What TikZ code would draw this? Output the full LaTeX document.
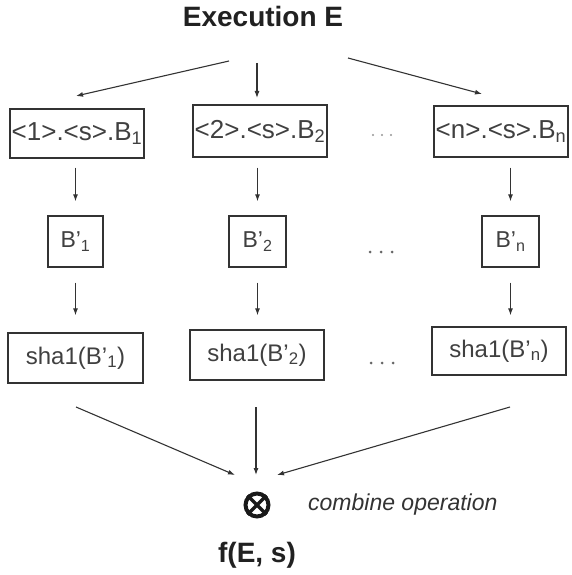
\documentclass[tikz,border=0pt]{standalone}
\usepackage{fontspec}
\setmainfont{Liberation Sans}
\usetikzlibrary{arrows.meta}
\definecolor{ink}{HTML}{333333}
\definecolor{txt}{HTML}{404040}
\definecolor{dotc}{HTML}{666666}
\begin{document}
\begin{tikzpicture}[x=1pt,y=-1pt,
  box/.style={draw=ink, line width=1.3pt, inner sep=0pt, text=txt},
  rowa/.style={box, font=\fontsize{26}{28}\selectfont, minimum width=134pt},
  rowb/.style={box, font=\fontsize{23}{25}\selectfont, minimum height=51pt},
  rowc/.style={box, font=\fontsize{24}{26}\selectfont, minimum width=134pt},
  arr/.style={draw=ink, line width=1.1pt, -{Latex[length=7pt,width=5pt]}},
  heading/.style={font=\bfseries\fontsize{28}{30}\selectfont, text=black!87, inner sep=0pt},
  dotmark/.style={fill=dotc, draw=none},
]
\useasboundingbox (0,0) rectangle (572,575);

% title
\node[heading, anchor=base] (title) at (263,27) {Execution E};

% row 1
\node[rowa, minimum height=49pt] (b1) at (77,133.5) {<1>.<s>.B\textsubscript{1}};
\node[rowa, minimum height=52pt] (b2) at (260,131) {<2>.<s>.B\textsubscript{2}};
\node[rowa, minimum height=51pt] (b3) at (501,131.5) {<n>.<s>.B\textsubscript{n}};

% row 2
\node[rowb, minimum width=55pt] (c1) at (75.5,241.5) {B'\textsubscript{1}};
\node[rowb, minimum width=57pt] (c2) at (257.5,241.5) {B'\textsubscript{2}};
\node[rowb, minimum width=57pt] (c3) at (510.5,241.5) {B'\textsubscript{n}};

% row 3
\node[rowc, minimum height=50pt, minimum width=135pt] (s1) at (75.5,358) {sha1(B'\textsubscript{1})};
\node[rowc, minimum height=50pt] (s2) at (257,355) {sha1(B'\textsubscript{2})};
\node[rowc, minimum height=48pt] (s3) at (499,351) {sha1(B'\textsubscript{n})};

% ellipses
\foreach \dx in {-9,0,9} \fill[dotmark, fill=dotc!70] (382+\dx,135) circle (1.2);
\foreach \dx in {-11,0,11} \fill[dotmark] (381+\dx,252) circle (1.5);
\foreach \dx in {-11,0,11} \fill[dotmark] (382+\dx,363) circle (1.5);

% combine operator
\node[circle, draw=black!90, line width=4pt, minimum size=23pt, inner sep=0pt] (op) at (257,505) {};
\draw[black!90, line width=3.4pt] (op.45) -- (op.225) (op.135) -- (op.315);
\node[anchor=base west, font=\itshape\fontsize{23}{25}\selectfont, text=ink, inner sep=0pt] (lbl) at (308,510) {combine operation};
\node[heading, anchor=base] (res) at (257,562) {f(E, s)};

% top arrows
\coordinate (ta1) at (229,61); \coordinate (tb1) at (76,96);
\coordinate (ta2) at (257,63); \coordinate (tb2) at (257,98);
\coordinate (ta3) at (348,58); \coordinate (tb3) at (482,94);
\draw[arr] (ta1) -- (tb1);
\draw[arr] (ta2) -- (tb2);
\draw[arr] (ta3) -- (tb3);

% row1 -> row2
\draw[arr, shorten <=9pt, shorten >=14pt] (c1.north |- b1.south) -- (c1.north);
\draw[arr, shorten <=10pt, shorten >=14pt] (c2.north |- b2.south) -- (c2.north);
\draw[arr, shorten <=10pt, shorten >=14pt] (c3.north |- b3.south) -- (c3.north);

% row2 -> row3
\draw[arr, shorten <=15pt, shorten >=17pt] (c1.south) -- (c1.south |- s1.north);
\draw[arr, shorten <=15pt, shorten >=14pt] (c2.south) -- (c2.south |- s2.north);
\draw[arr, shorten <=15pt, shorten >=11pt] (c3.south) -- (c3.south |- s3.north);

% bottom arrows
\coordinate (ba1) at (76,407); \coordinate (be1) at (235,475);
\coordinate (ba2) at (256,407); \coordinate (be2) at (256,475);
\coordinate (ba3) at (510,407); \coordinate (be3) at (277,475);
\draw[arr] (ba1) -- (be1);
\draw[arr] (ba2) -- (be2);
\draw[arr] (ba3) -- (be3);
\end{tikzpicture}
\end{document}
